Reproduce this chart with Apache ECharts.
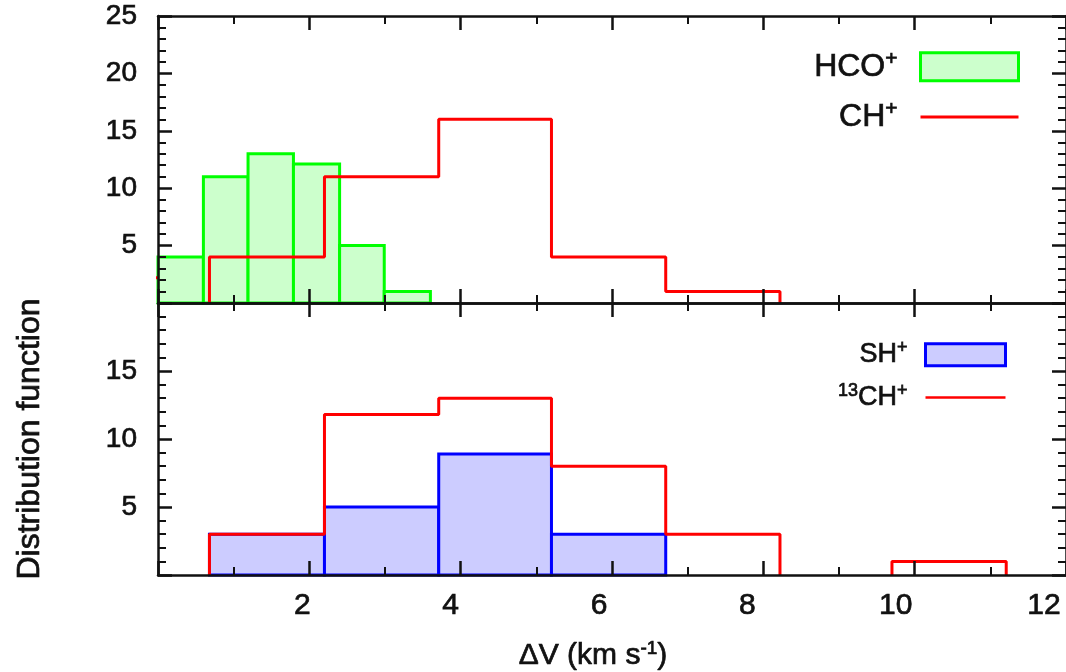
<!DOCTYPE html>
<html>
<head>
<meta charset="utf-8">
<script src="https://cdn.jsdelivr.net/npm/echarts@6/dist/echarts.min.js"></script>
<style>
  html, body { margin: 0; padding: 0; background: #fff; }
  #chart { width: 1066px; height: 672px; }
</style>
</head>
<body>
<div id="chart"></div>
<script>
// x ticks (km/s)
var xTicks = [0, 2, 4, 6, 8, 10, 12];

// top panel
var hcoEdges = [0, 0.6, 1.19, 1.79, 2.4, 2.99, 3.6];
var hcoCounts = [4, 11, 13, 12.1, 5, 1];
var chEdges = [0.68, 2.2, 3.71, 5.2, 6.71, 8.22];
var chCounts = [4, 11, 16, 4, 1];
var chStubEdges = [-0.14, 0];
var chStubCount = 2.2;

// bottom panel
var shEdges = [0.68, 2.2, 3.71, 5.2, 6.71];
var shCounts = [3, 5, 8.9, 3];
var ch13Edges = [0.68, 2.2, 3.71, 5.2, 6.71, 8.22, 9.7, 11.21];
var ch13Counts = [3, 11.8, 13, 8, 3, 0, 1];

var font = 'Liberation Sans, Arial, sans-serif';
var ink = '#111';
// the scanned text looks heavier than a plain regular weight
var heavy = { textBorderColor: ink, textBorderWidth: 0.7 };

function txt(size, extra) {
    return Object.assign({ fontSize: size, fontFamily: font, color: ink }, heavy, extra || {});
}

function bins(edges, counts) {
    return counts.map(function(c, i) {
        return [edges[i], edges[i + 1], c];
    });
}

// envelope of a histogram, broken where a bin is empty
function outline(edges, counts) {
    var pts = [[edges[0], 0]];
    counts.forEach(function(c, i) {
        if (c === 0) {
            pts.push([edges[i], 0], [edges[i], null], [edges[i + 1], 0]);
            return;
        }
        pts.push([edges[i], c], [edges[i + 1], c]);
    });
    pts.push([edges[edges.length - 1], 0]);
    return pts;
}

function binRenderer(fill, stroke) {
    return function(params, api) {
        var a = api.coord([api.value(0), api.value(2)]);
        var b = api.coord([api.value(1), 0]);
        return {
            type: 'rect',
            shape: { x: a[0], y: a[1], width: b[0] - a[0], height: b[1] - a[1] },
            style: { fill: fill, stroke: stroke, lineWidth: 3 }
        };
    };
}

// tick labels in the original drift a bit to the left
var xRich = {};
xTicks.forEach(function(v) {
    xRich['s' + v] = txt(30, { padding: [0, 2 * (4 + 1.5 * v), 0, 0] });
});

function xAxis(grid, pos, labels) {
    var ax = {
        type: 'value', gridIndex: grid, position: pos,
        min: 0, max: 12, interval: 2, z: 5,
        axisLine: { show: true, onZero: false, lineStyle: { color: ink, width: 2.5 } },
        axisTick: { show: true, inside: true, length: 14, lineStyle: { color: ink, width: 2.5 } },
        minorTick: { show: true, splitNumber: 2, length: 8, lineStyle: { color: ink, width: 2 } },
        splitLine: { show: false },
        axisLabel: { show: false }
    };
    if (labels) {
        ax.axisLabel = {
            show: true, margin: 16, showMinLabel: false,
            formatter: function(v) { return '{s' + v + '|' + v + '}'; },
            rich: xRich
        };
        ax.name = 'ΔV (km s{sup|-1})';
        ax.nameLocation = 'middle';
        ax.nameGap = 64;
        ax.nameTextStyle = txt(30, {
            padding: [0, 38, 0, 0],
            rich: { sup: txt(19, { padding: [0, 0, 14, 0] }) }
        });
    }
    return ax;
}

function yAxis(grid, pos, max, labels) {
    var ax = {
        type: 'value', gridIndex: grid, position: pos,
        min: 0, max: max, interval: 5, z: 5,
        axisLine: { show: true, onZero: false, lineStyle: { color: ink, width: 2.5 } },
        axisTick: { show: true, inside: true, length: 14, lineStyle: { color: ink, width: 2.5 } },
        minorTick: { show: true, splitNumber: 5, length: 8, lineStyle: { color: ink, width: 2 } },
        splitLine: { show: false },
        axisLabel: { show: false }
    };
    if (labels) {
        ax.axisLabel = Object.assign(txt(28, { padding: [6, 0, 0, 0] }), {
            show: true, margin: 21, showMinLabel: false, showMaxLabel: grid === 0
        });
    }
    return ax;
}

var legendText = {
    'HCO+': 'HCO{sup|+}',
    'CH+': 'CH{sup|+}',
    'SH+': 'SH{sup|+}',
    '13CH+': '{sup|13}CH{sup|+}'
};
var linePath = 'path://M0,0H100V3H0Z';

var chart = echarts.init(document.getElementById('chart'));

chart.setOption({
    animation: false,
    backgroundColor: '#fff',
    grid: [
        { left: 158, right: -6, top: 16, height: 287 },
        { left: 158, right: -6, top: 303, height: 272 }
    ],
    xAxis: [
        xAxis(0, 'bottom', false),
        xAxis(0, 'top', false),
        xAxis(1, 'bottom', true),
        xAxis(1, 'top', false)
    ],
    yAxis: [
        yAxis(0, 'left', 25, true),
        yAxis(0, 'right', 25, false),
        Object.assign(yAxis(1, 'left', 20, true), {
            name: 'Distribution function', nameLocation: 'middle', nameRotate: 90, nameGap: 112,
            nameTextStyle: txt(32)
        }),
        yAxis(1, 'right', 20, false)
    ],
    legend: [
        {
            orient: 'vertical', align: 'right', right: 41, top: 43,
            itemWidth: 98, itemHeight: 28, itemGap: 15,
            formatter: function(n) { return legendText[n]; },
            textStyle: txt(32, {
                padding: [0, 18, 0, 0],
                rich: { sup: txt(21, { padding: [0, 0, 16, 0] }) }
            }),
            data: [
                { name: 'HCO+', icon: 'rect', itemStyle: { color: '#ccffcc', borderColor: '#00ff00', borderWidth: 3 } },
                { name: 'CH+', icon: linePath, itemStyle: { color: '#ff0000', borderWidth: 0 } }
            ]
        },
        {
            orient: 'vertical', align: 'right', right: 54, top: 334,
            itemWidth: 80, itemHeight: 22, itemGap: 13,
            formatter: function(n) { return legendText[n]; },
            textStyle: txt(27, {
                padding: [0, 13, 0, 0],
                rich: { sup: txt(18, { padding: [0, 0, 13, 0] }) }
            }),
            data: [
                { name: 'SH+', icon: 'rect', itemStyle: { color: '#ccccff', borderColor: '#0000ff', borderWidth: 3 } },
                { name: '13CH+', icon: linePath, itemStyle: { color: '#ff0000', borderWidth: 0 } }
            ]
        }
    ],
    series: [
        {
            name: 'HCO+', type: 'custom', xAxisIndex: 0, yAxisIndex: 0, z: 2,
            renderItem: binRenderer('#ccffcc', '#00ff00'),
            encode: { x: [0, 1], y: 2 },
            itemStyle: { color: '#ccffcc', borderColor: '#00ff00' },
            data: bins(hcoEdges, hcoCounts)
        },
        {
            name: 'CH+', type: 'line', xAxisIndex: 0, yAxisIndex: 0, z: 3,
            symbol: 'none', clip: false, color: '#ff0000',
            lineStyle: { color: '#ff0000', width: 3 },
            data: [[chStubEdges[0], chStubCount], [chStubEdges[1], chStubCount], [chStubEdges[1], null]]
                .concat(outline(chEdges, chCounts))
        },
        {
            name: 'SH+', type: 'custom', xAxisIndex: 2, yAxisIndex: 2, z: 2,
            renderItem: binRenderer('#ccccff', '#0000ff'),
            encode: { x: [0, 1], y: 2 },
            itemStyle: { color: '#ccccff', borderColor: '#0000ff' },
            data: bins(shEdges, shCounts)
        },
        {
            name: '13CH+', type: 'line', xAxisIndex: 2, yAxisIndex: 2, z: 3,
            symbol: 'none', color: '#ff0000',
            lineStyle: { color: '#ff0000', width: 3 },
            data: outline(ch13Edges, ch13Counts)
        }
    ]
});
</script>
</body>
</html>
